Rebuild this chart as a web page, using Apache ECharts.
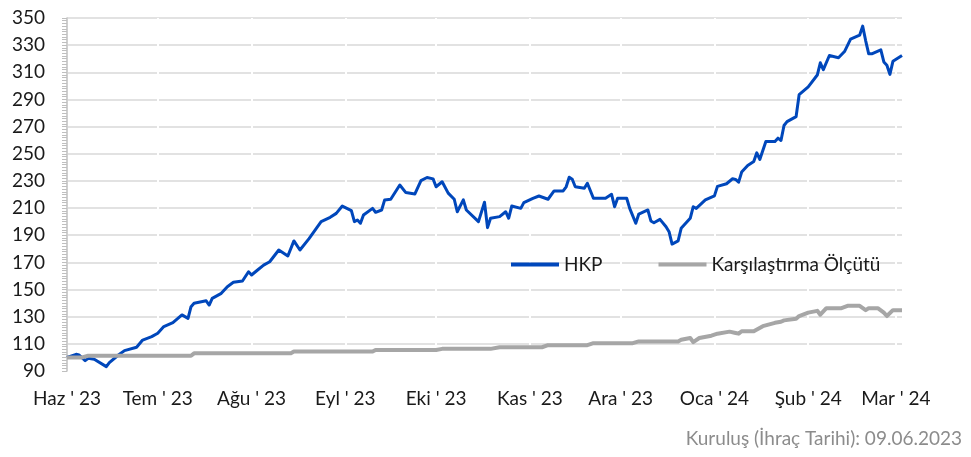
<!DOCTYPE html>
<html>
<head>
    <meta charset="UTF-8">
    <title>HKP</title>
    <script src="https://cdn.jsdelivr.net/npm/echarts@6/dist/echarts.min.js"></script>
    <style>
        html, body { margin: 0; padding: 0; background: #fff; }
        #main { width: 971px; height: 457px; }
    </style>
</head>
<body>
<div id="main"></div>
<script>
    // fon verisi
    var hkpDates = [
        '2023-06-09', '2023-06-12', '2023-06-13', '2023-06-15', '2023-06-16', '2023-06-18', '2023-06-22', '2023-06-23',
        '2023-06-26', '2023-06-28', '2023-07-02', '2023-07-04', '2023-07-07', '2023-07-09', '2023-07-11', '2023-07-14',
        '2023-07-17', '2023-07-19', '2023-07-20', '2023-07-21', '2023-07-25', '2023-07-26', '2023-07-27', '2023-07-30',
        '2023-08-01', '2023-08-03', '2023-08-06', '2023-08-08', '2023-08-09', '2023-08-11', '2023-08-13', '2023-08-15',
        '2023-08-18', '2023-08-21', '2023-08-23', '2023-08-25', '2023-08-28', '2023-09-01', '2023-09-04', '2023-09-06',
        '2023-09-08', '2023-09-11', '2023-09-12', '2023-09-13', '2023-09-14', '2023-09-15', '2023-09-18', '2023-09-19',
        '2023-09-21', '2023-09-22', '2023-09-24', '2023-09-27', '2023-09-29', '2023-10-02', '2023-10-04', '2023-10-06',
        '2023-10-08', '2023-10-09', '2023-10-11', '2023-10-13', '2023-10-15', '2023-10-16', '2023-10-18', '2023-10-19',
        '2023-10-23', '2023-10-25', '2023-10-26', '2023-10-27', '2023-10-30', '2023-11-01', '2023-11-02', '2023-11-03',
        '2023-11-06', '2023-11-07', '2023-11-10', '2023-11-12', '2023-11-15', '2023-11-17', '2023-11-20', '2023-11-21',
        '2023-11-22', '2023-11-23', '2023-11-24', '2023-11-27', '2023-11-28', '2023-11-30', '2023-12-04', '2023-12-06',
        '2023-12-07', '2023-12-08', '2023-12-11', '2023-12-12', '2023-12-14', '2023-12-15', '2023-12-18', '2023-12-19',
        '2023-12-20', '2023-12-22', '2023-12-24', '2023-12-25', '2023-12-26', '2023-12-28', '2023-12-29', '2024-01-01',
        '2024-01-02', '2024-01-03', '2024-01-06', '2024-01-09', '2024-01-10', '2024-01-13', '2024-01-15', '2024-01-16',
        '2024-01-17', '2024-01-18', '2024-01-20', '2024-01-22', '2024-01-23', '2024-01-24', '2024-01-26', '2024-01-29',
        '2024-01-30', '2024-01-31', '2024-02-01', '2024-02-02', '2024-02-05', '2024-02-06', '2024-02-09', '2024-02-12',
        '2024-02-13', '2024-02-14', '2024-02-16', '2024-02-19', '2024-02-21', '2024-02-23', '2024-02-26', '2024-02-27',
        '2024-02-28', '2024-02-29', '2024-03-01', '2024-03-04', '2024-03-05', '2024-03-06', '2024-03-07', '2024-03-08',
        '2024-03-11'
    ];
    var hkpValues = [
        100, 102.3, 101.8, 97.6, 99.4, 98.6, 93.2, 96.2,
        101.8, 105, 107.5, 112.8, 115.3, 117.8, 122.7, 125.6,
        131.3, 128.8, 137.4, 139.9, 141.7, 138.6, 143.5, 147.2,
        152.1, 155.3, 156.3, 163.1, 160.7, 164.4, 168, 170.5,
        179.1, 174.7, 185.8, 179.1, 187.5, 200, 203.2, 206.1,
        211.5, 208.1, 200, 201.2, 198.8, 204.9, 209.8, 206.9,
        208.6, 216, 216.5, 227, 221.4, 220.4, 230.2, 232.5,
        231.5, 225.7, 229.4, 221, 216.5, 207.3, 216, 208.6,
        200, 214.3, 195.6, 202.5, 203.7, 207.3, 202.5, 211.5,
        209.8, 214, 217.2, 218.9, 216.5, 222.6, 222.6, 225.7,
        232.7, 231.2, 225.7, 224.6, 228.3, 217.2, 217.2, 220.1,
        211, 217.2, 217.2, 209.8, 198.8, 205.6, 208.6, 200.5,
        199.2, 201.7, 196.3, 192.6, 183.5, 185.8, 195.1, 202.5,
        211, 209.8, 216, 219, 226, 227.9, 231.6, 231.1,
        229.1, 236.5, 241.4, 244.3, 250.7, 245.8, 259, 259,
        261.5, 259.8, 270.8, 273.7, 277.4, 293.5, 299.3, 308,
        317, 312, 322.4, 320.7, 325.3, 334.4, 337.3, 344,
        333.2, 323.6, 323.6, 326.5, 317.6, 315.2, 308.5, 318.1,
        322.4
    ];

    // karsilastirma olcutu
    var benchDates = [
        '2023-06-09', '2023-06-14', '2023-06-16', '2023-07-20', '2023-07-21', '2023-08-22', '2023-08-23', '2023-09-18',
        '2023-09-19', '2023-10-09', '2023-10-11', '2023-10-27', '2023-10-30', '2023-11-13', '2023-11-15', '2023-11-28',
        '2023-11-30', '2023-12-13', '2023-12-15', '2023-12-28', '2023-12-29', '2024-01-01', '2024-01-02', '2024-01-04',
        '2024-01-08', '2024-01-10', '2024-01-14', '2024-01-16', '2024-01-17', '2024-01-18', '2024-01-22', '2024-01-25',
        '2024-01-29', '2024-01-31', '2024-02-01', '2024-02-05', '2024-02-06', '2024-02-09', '2024-02-12', '2024-02-13',
        '2024-02-15', '2024-02-20', '2024-02-22', '2024-02-26', '2024-02-28', '2024-02-29', '2024-03-03', '2024-03-05',
        '2024-03-06', '2024-03-08', '2024-03-11'
    ];
    var benchValues = [
        100, 100, 101.2, 101.2, 103, 103, 104.3, 104.3,
        105.5, 105.5, 106.3, 106.3, 107.5, 107.5, 109, 109,
        110.5, 110.5, 111.8, 111.8, 113, 114.3, 111.3, 114.3,
        116, 117.5, 119, 118, 117.5, 119.3, 119.3, 123,
        125.5, 126.3, 127.3, 128.5, 130.5, 133, 134.3, 131.5,
        136.3, 136.3, 138, 138, 134.8, 136.3, 136.3, 133,
        130.5, 134.8, 134.8
    ];

    // eksen etiketleri
    var tickDates = ['2023-06-09', '2023-07-09', '2023-08-09', '2023-09-09', '2023-10-09',
        '2023-11-09', '2023-12-09', '2024-01-09', '2024-02-09', '2024-03-09'];
    var tickLabels = ["Haz ' 23", "Tem ' 23", "Ağu ' 23", "Eyl ' 23", "Eki ' 23",
        "Kas ' 23", "Ara ' 23", "Oca ' 24", "Şub ' 24", "Mar ' 24"];

    function toTime(s) {
        var p = s.split('-');
        return new Date(+p[0], +p[1] - 1, +p[2]).getTime();
    }

    function pairs(dates, values) {
        var out = [];
        for (var i = 0; i < dates.length; i++) {
            out.push([toTime(dates[i]), values[i]]);
        }
        return out;
    }

    var tickTimes = tickDates.map(toTime);
    var labelMap = {};
    tickTimes.forEach(function (t, i) {
        labelMap[t] = tickLabels[i];
    });

    var myChart = echarts.init(document.getElementById('main'));

    myChart.setOption({
        animation: false,
        textStyle: {fontFamily: 'Lato'},
        grid: {left: 67, right: 69, top: 18, bottom: 86},
        legend: {
            left: 506,
            top: 250,
            icon: 'rect',
            itemWidth: 48,
            itemHeight: 4,
            itemGap: 56,
            textStyle: {fontSize: 19, color: '#1a1a1a', fontFamily: 'Lato'},
            data: ['HKP', 'Karşılaştırma Ölçütü']
        },
        // tarih ekseni: zaman damgasi, etiketler her ayin 9'unda
        xAxis: {
            type: 'value',
            min: toTime('2023-06-09'),
            max: toTime('2024-03-11'),
            axisLine: {show: false},
            axisTick: {show: false, customValues: tickTimes},
            axisLabel: {
                customValues: tickTimes,
                hideOverlap: false,
                showMinLabel: true,
                showMaxLabel: true,
                margin: 18,
                fontSize: 19,
                color: '#1a1a1a',
                fontFamily: 'Lato',
                formatter: function (v) {
                    return labelMap[v] || '';
                }
            },
            splitLine: {show: true, lineStyle: {color: '#ffffff', width: 2}}
        },
        yAxis: {
            type: 'value',
            min: 90,
            max: 350,
            interval: 20,
            axisLine: {show: true, lineStyle: {color: '#bfbfbf', width: 1.5}},
            axisTick: {show: true, length: 5, lineStyle: {color: '#bfbfbf'}},
            minorTick: {show: true, splitNumber: 10, length: 5, lineStyle: {color: '#bfbfbf'}},
            axisLabel: {margin: 22, fontSize: 19, color: '#1a1a1a', fontFamily: 'Lato'},
            splitLine: {show: true, showMinLine: false, lineStyle: {color: '#d9d9d9', width: 1.5}}
        },
        graphic: [{
            type: 'text',
            right: 9,
            top: 429,
            style: {
                text: 'Kuruluş (İhraç Tarihi): 09.06.2023',
                fill: '#8c8c8c',
                font: '19px Lato'
            }
        }],
        series: [{
            name: 'HKP',
            type: 'line',
            symbol: 'none',
            data: pairs(hkpDates, hkpValues),
            lineStyle: {color: '#0047bb', width: 3, join: 'round'},
            itemStyle: {color: '#0047bb'}
        }, {
            name: 'Karşılaştırma Ölçütü',
            type: 'line',
            symbol: 'none',
            data: pairs(benchDates, benchValues),
            lineStyle: {color: '#a6a6a6', width: 4, join: 'round'},
            itemStyle: {color: '#a6a6a6'}
        }]
    });
</script>
</body>
</html>
